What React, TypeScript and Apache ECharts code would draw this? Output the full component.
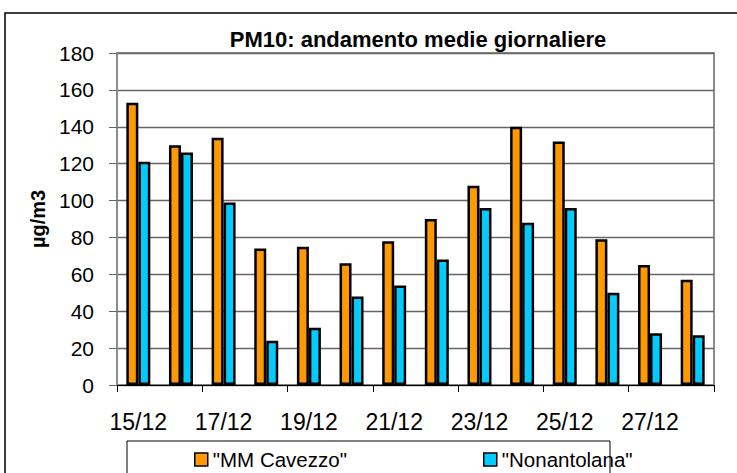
import React, { useEffect, useRef } from "react";
import * as echarts from "echarts";

const categories = ["15/12", "16/12", "17/12", "18/12", "19/12", "20/12", "21/12", "22/12", "23/12", "24/12", "25/12", "26/12", "27/12", "28/12"];
const cavezzo = [153, 130, 134, 74, 75, 66, 78, 90, 108, 140, 132, 79, 65, 57];
const nonantolana = [121, 126, 99, 24, 31, 48, 54, 68, 96, 88, 96, 50, 28, 27];
const seriesNames = ['"MM Cavezzo"', '"Nonantolana"'];
const titleText = "PM10: andamento medie giornaliere";
const yName = "µg/m3";

const FONT = "'Liberation Sans', Arial, sans-serif";

const legendBase = {
  top: 449,
  itemWidth: 13,
  itemHeight: 13,
  padding: 0,
  icon: "rect",
  itemStyle: { borderColor: "#000", borderWidth: 1.5 },
  textStyle: { fontFamily: FONT, fontSize: 20.5, lineHeight: 20, color: "#000" },
};

export default function App() {
  const ref = useRef<HTMLDivElement>(null);
  useEffect(() => {
    if (!ref.current) return;
    const chart = echarts.init(ref.current, null, { renderer: "svg" });
    chart.setOption({
      animation: false,
      backgroundColor: "#ffffff",
      textStyle: { fontFamily: FONT },
      title: {
        text: titleText,
        left: 413,
        textAlign: "center",
        top: 23,
        textStyle: { fontFamily: FONT, fontSize: 22, fontWeight: "bold", color: "#000" },
      },
      graphic: [
        {
          type: "rect",
          shape: { x: 5, y: 13, width: 740, height: 470 },
          style: { fill: "none", stroke: "#000", lineWidth: 1.5 },
          silent: true,
        },
        {
          type: "rect",
          shape: { x: 127, y: 441, width: 483, height: 40 },
          style: { fill: "none", stroke: "#000", lineWidth: 1 },
          silent: true,
        },
      ],
      legend: [
        { ...legendBase, left: 194, data: [seriesNames[0]] },
        { ...legendBase, left: 483, data: [seriesNames[1]] },
      ],
      grid: {
        left: 117,
        right: 23,
        top: 53,
        bottom: 88,
        show: true,
        borderColor: "#8c8c8c",
        borderWidth: 2,
      },
      xAxis: {
        type: "category",
        data: categories,
        axisLine: { lineStyle: { color: "#000", width: 1 } },
        axisTick: { show: true, interval: 1, length: 7, lineStyle: { color: "#000" } },
        axisLabel: { interval: 1, margin: 25, fontSize: 23, color: "#000", fontFamily: FONT },
      },
      yAxis: {
        type: "value",
        min: 0,
        max: 180,
        interval: 20,
        name: yName,
        nameLocation: "middle",
        nameGap: 69,
        nameTextStyle: { fontFamily: FONT, fontSize: 20, fontWeight: "bold", color: "#000" },
        axisLine: { show: true, lineStyle: { color: "#8c8c8c", width: 2 } },
        axisTick: { show: true, length: 8, lineStyle: { color: "#666" } },
        axisLabel: { fontSize: 21, color: "#000", margin: 23, fontFamily: FONT },
        splitLine: { lineStyle: { color: "#666", width: 1.3 } },
      },
      series: [
        {
          name: seriesNames[0],
          type: "bar",
          data: cavezzo,
          barWidth: 12,
          barGap: "0%",
          itemStyle: { color: "#FF9900", borderColor: "#000", borderWidth: 2.5 },
        },
        {
          name: seriesNames[1],
          type: "bar",
          data: nonantolana,
          barWidth: 12,
          barGap: "0%",
          itemStyle: { color: "#00CCFF", borderColor: "#000", borderWidth: 2.5 },
        },
      ],
    });
    return () => chart.dispose();
  }, []);
  return (
    <div
      ref={ref}
      style={{ position: "fixed", left: 0, top: 0, width: 737, height: 473 }}
    />
  );
}
